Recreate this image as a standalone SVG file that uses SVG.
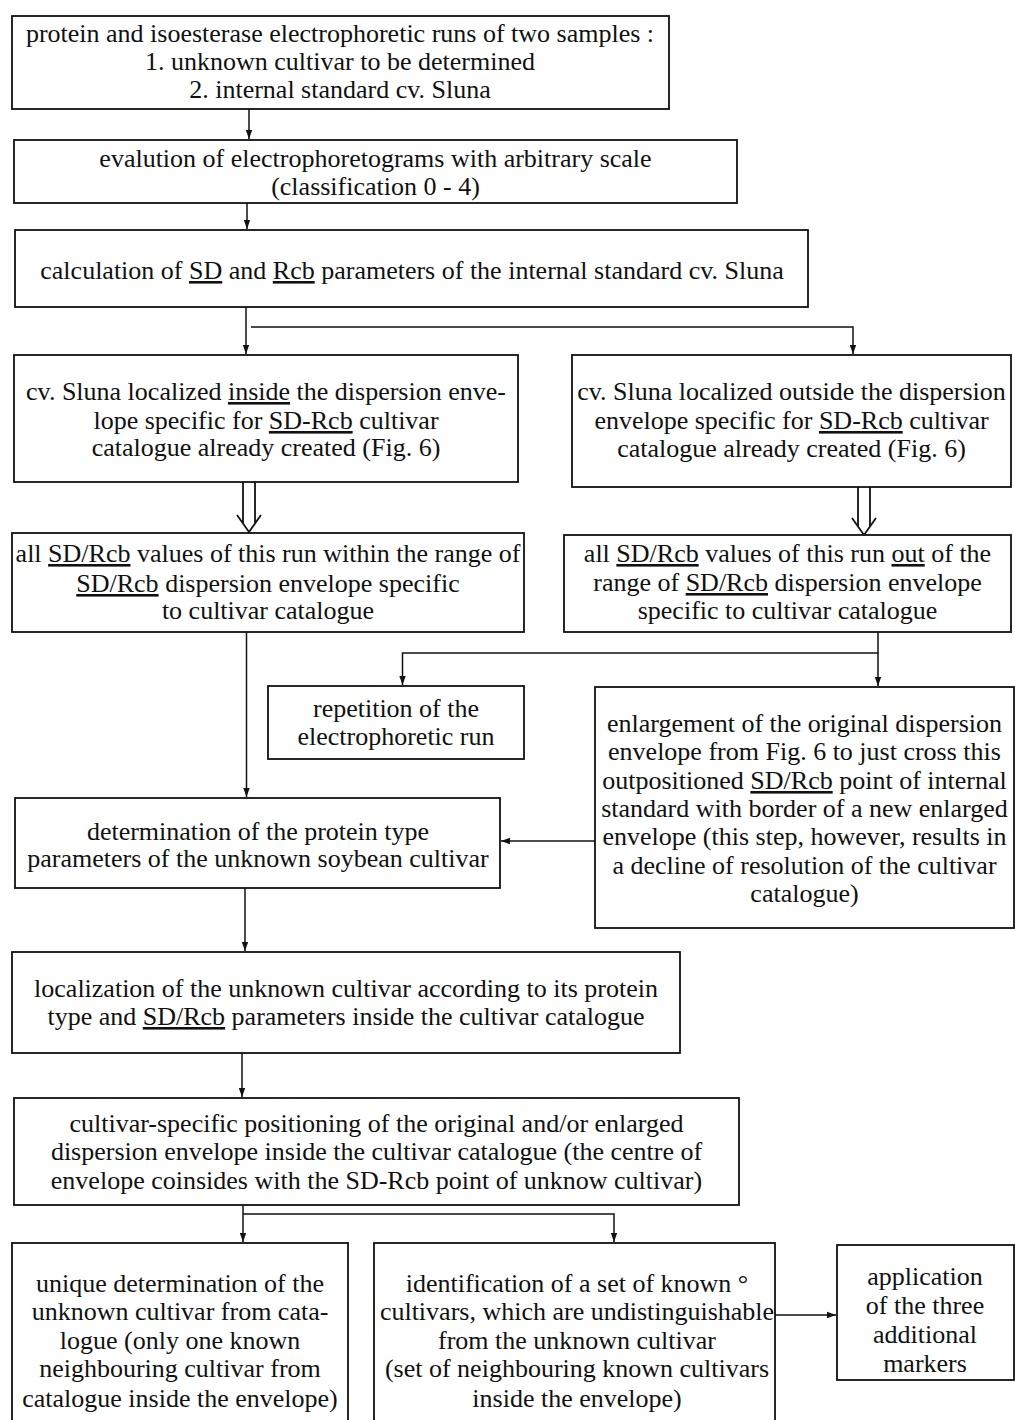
<svg xmlns="http://www.w3.org/2000/svg" width="1015" height="1420" viewBox="0 0 1015 1420">
<defs>
<style>
.box{fill:#fff;stroke:#111;stroke-width:1.8}
text{font-family:"Liberation Serif","Times New Roman",serif;font-size:26px;fill:#111;text-anchor:middle}
.u{text-decoration:underline}
.c{fill:none;stroke:#111;stroke-width:1.5}
.d{fill:none;stroke:#111;stroke-width:1.8}
</style>
<marker id="ah" markerWidth="10" markerHeight="8" refX="9" refY="4" orient="auto" markerUnits="userSpaceOnUse">
<path d="M0,0.8 L9,4 L0,7.2 Z" fill="#111"/>
</marker>
</defs>
<rect width="1015" height="1420" fill="#fff"/>
<g id="connectors">
<path class="c" d="M249,109 V139" marker-end="url(#ah)"/>
<path class="c" d="M247,203 V229" marker-end="url(#ah)"/>
<path class="c" d="M246,307 V354" marker-end="url(#ah)"/>
<path class="c" d="M251,327 H853 V354" marker-end="url(#ah)"/>
<path class="d" d="M243,482 V523 M255,482 V523 M237,515 L249,532 L261,515"/>
<path class="d" d="M858,487 V526 M870,487 V526 M852,518 L864,535 L876,518"/>
<path class="c" d="M246.5,632 V797" marker-end="url(#ah)"/>
<path class="c" d="M878,632 V653 H402.5 V685" marker-end="url(#ah)"/>
<path class="c" d="M878,653 V686" marker-end="url(#ah)"/>
<path class="c" d="M595,841 H501" marker-end="url(#ah)"/>
<path class="c" d="M245,888 V951" marker-end="url(#ah)"/>
<path class="c" d="M242,1053 V1097" marker-end="url(#ah)"/>
<path class="c" d="M243,1205 V1242" marker-end="url(#ah)"/>
<path class="c" d="M243,1214 H614 V1242" marker-end="url(#ah)"/>
<path class="c" d="M775,1315 H836" marker-end="url(#ah)"/>
</g>
<g id="n1">
<rect class="box" x="12" y="16" width="657" height="93"/>
<text x="340" y="42">protein and isoesterase electrophoretic runs of two samples :</text>
<text x="340" y="70">1. unknown cultivar to be determined</text>
<text x="340" y="98">2. internal standard cv. Sluna</text>
</g>
<g id="n2">
<rect class="box" x="14" y="140" width="723" height="63"/>
<text x="375.5" y="167">evalution of electrophoretograms with arbitrary scale</text>
<text x="375.5" y="195">(classification 0 - 4)</text>
</g>
<g id="n3">
<rect class="box" x="15" y="230" width="793" height="77"/>
<text x="412" y="279">calculation of <tspan class="u">SD</tspan> and <tspan class="u">Rcb</tspan> parameters of the internal standard cv. Sluna</text>
</g>
<g id="n4">
<rect class="box" x="14" y="355" width="504" height="127"/>
<text x="266" y="400">cv. Sluna localized <tspan class="u">inside</tspan> the dispersion enve-</text>
<text x="266" y="429">lope specific for <tspan class="u">SD-Rcb</tspan> cultivar</text>
<text x="266" y="456">catalogue already created (Fig. 6)</text>
</g>
<g id="n5">
<rect class="box" x="572" y="355" width="439" height="132"/>
<text x="791.5" y="400">cv. Sluna localized outside the dispersion</text>
<text x="791.5" y="429">envelope specific for <tspan class="u">SD-Rcb</tspan> cultivar</text>
<text x="791.5" y="457">catalogue already created (Fig. 6)</text>
</g>
<g id="n6">
<rect class="box" x="12" y="533" width="512" height="99"/>
<text x="268" y="562">all <tspan class="u">SD/Rcb</tspan> values of this run within the range of</text>
<text x="268" y="592"><tspan class="u">SD/Rcb</tspan> dispersion  envelope specific</text>
<text x="268" y="619">to cultivar catalogue</text>
</g>
<g id="n7">
<rect class="box" x="564" y="535" width="447" height="97"/>
<text x="787.5" y="562">all <tspan class="u">SD/Rcb</tspan> values of this run <tspan class="u">out</tspan> of the</text>
<text x="787.5" y="591">range of <tspan class="u">SD/Rcb</tspan> dispersion envelope</text>
<text x="787.5" y="619">specific to cultivar catalogue</text>
</g>
<g id="n9">
<rect class="box" x="268" y="686" width="256" height="73"/>
<text x="396" y="717">repetition of the</text>
<text x="396" y="745">electrophoretic run</text>
</g>
<g id="n10">
<rect class="box" x="595" y="687" width="419" height="241"/>
<text x="804.5" y="732">enlargement of the original dispersion</text>
<text x="804.5" y="760">envelope from Fig. 6 to just cross this</text>
<text x="804.5" y="789">outpositioned <tspan class="u">SD/Rcb</tspan> point of internal</text>
<text x="804.5" y="817">standard with border of a new enlarged</text>
<text x="804.5" y="845">envelope (this step, however, results in</text>
<text x="804.5" y="874">a decline of resolution of the cultivar</text>
<text x="804.5" y="902">catalogue)</text>
</g>
<g id="n8">
<rect class="box" x="15" y="798" width="485" height="90"/>
<text x="258" y="840">determination of the protein type</text>
<text x="258" y="867">parameters of the unknown soybean cultivar</text>
</g>
<g id="n11">
<rect class="box" x="12" y="952" width="668" height="101"/>
<text x="346" y="997">localization of the unknown cultivar according to its protein</text>
<text x="346" y="1025">type and <tspan class="u">SD/Rcb</tspan> parameters inside the cultivar catalogue</text>
</g>
<g id="n12">
<rect class="box" x="14" y="1098" width="725" height="107"/>
<text x="376.5" y="1132">cultivar-specific positioning of the original and/or enlarged</text>
<text x="376.5" y="1160">dispersion envelope inside the cultivar catalogue (the centre of</text>
<text x="376.5" y="1189">envelope coinsides with the SD-Rcb point of unknow cultivar)</text>
</g>
<g id="n13">
<rect class="box" x="12" y="1243" width="336" height="200"/>
<text x="180" y="1292">unique determination of the</text>
<text x="180" y="1320">unknown cultivar from cata-</text>
<text x="180" y="1349">logue (only one known</text>
<text x="180" y="1377">neighbouring cultivar from</text>
<text x="180" y="1407">catalogue inside the envelope)</text>
</g>
<g id="n14">
<rect class="box" x="374" y="1243" width="401" height="200"/>
<text x="577" y="1292">identification of a set of known °</text>
<text x="577" y="1320">cultivars, which are undistinguishable</text>
<text x="577" y="1349">from the unknown cultivar</text>
<text x="577" y="1377">(set of neighbouring known cultivars</text>
<text x="577" y="1407">inside the envelope)</text>
</g>
<g id="n15">
<rect class="box" x="837" y="1245" width="177" height="135"/>
<text x="925" y="1285">application</text>
<text x="925" y="1314">of the three</text>
<text x="925" y="1343">additional</text>
<text x="925" y="1372">markers</text>
</g>
</svg>
